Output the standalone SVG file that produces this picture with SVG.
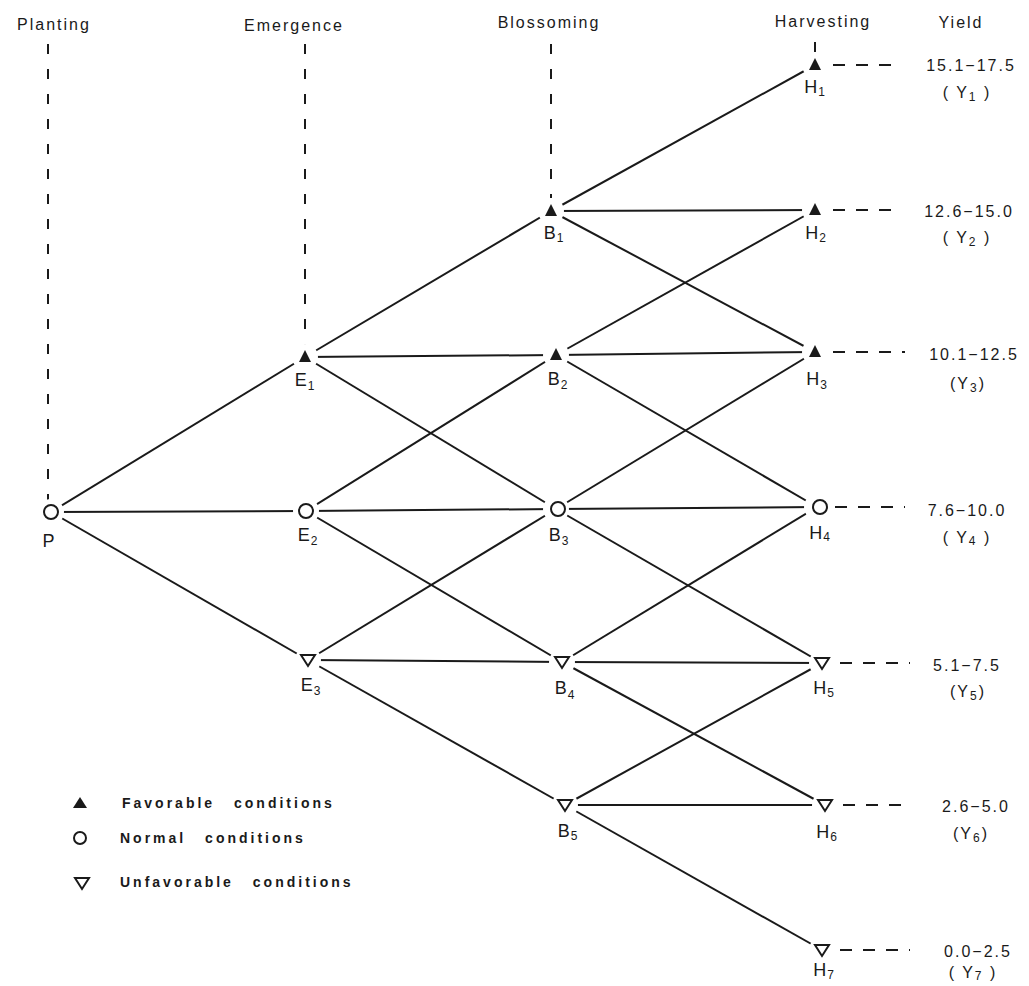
<svg xmlns="http://www.w3.org/2000/svg" width="1029" height="986" viewBox="0 0 1029 986">
<style>
text{font-family:"Liberation Sans","DejaVu Sans",sans-serif;fill:#1a1a1a}
.hd{font-size:16px;letter-spacing:2px;text-anchor:middle}
.lb{font-size:18px;letter-spacing:1px;text-anchor:middle}
.yv{font-size:16px;letter-spacing:2px;text-anchor:middle}
.lg{font-size:14px;font-weight:bold;letter-spacing:3px;word-spacing:12px}
.sub{font-size:12px}
.c line{stroke:#1a1a1a;stroke-width:2}
.d{stroke:#1a1a1a;stroke-width:2;stroke-dasharray:10 15;fill:none}
.dy{stroke:#1a1a1a;stroke-width:2;stroke-dasharray:12 11;fill:none}
.m{fill:#fff}
.up{fill:#1a1a1a}
.dn{fill:none;stroke:#1a1a1a;stroke-width:2}
.ci{fill:none;stroke:#1a1a1a;stroke-width:2}
</style>
<rect width="1029" height="986" fill="#fff"/>
<g id="headers">
<text class="hd" x="54" y="30">Planting</text>
<text class="hd" x="294" y="31">Emergence</text>
<text class="hd" x="549" y="28">Blossoming</text>
<text class="hd" x="823" y="27">Harvesting</text>
<text class="hd" x="961" y="28">Yield</text>
</g>
<g id="guides">
<line class="d" x1="48" y1="44" x2="48" y2="500"/>
<line class="d" x1="305" y1="44" x2="305" y2="345"/>
<line class="d" x1="551" y1="44" x2="551" y2="198"/>
<line class="d" x1="815" y1="42" x2="815" y2="54"/>
<line class="dy" x1="833" y1="65" x2="900" y2="65"/>
<line class="dy" x1="833" y1="210" x2="900" y2="210"/>
<line class="dy" x1="833" y1="352" x2="905" y2="352"/>
<line class="dy" x1="835" y1="507" x2="905" y2="507"/>
<line class="dy" x1="840" y1="663" x2="910" y2="663"/>
<line class="dy" x1="843" y1="805" x2="910" y2="805"/>
<line class="dy" x1="840" y1="950" x2="910" y2="950"/>
</g>
<g id="connectors" class="c">
<line x1="51" y1="512" x2="305" y2="357"/>
<line x1="51" y1="512" x2="306" y2="511"/>
<line x1="51" y1="512" x2="308" y2="660"/>
<line x1="305" y1="357" x2="551" y2="211"/>
<line x1="305" y1="357" x2="556" y2="355"/>
<line x1="305" y1="357" x2="556" y2="509"/>
<line x1="306" y1="511" x2="556" y2="355"/>
<line x1="306" y1="511" x2="556" y2="509"/>
<line x1="306" y1="511" x2="562" y2="662"/>
<line x1="308" y1="660" x2="556" y2="509"/>
<line x1="308" y1="660" x2="562" y2="662"/>
<line x1="308" y1="660" x2="565" y2="805"/>
<line x1="551" y1="211" x2="815" y2="65"/>
<line x1="551" y1="211" x2="815" y2="210"/>
<line x1="551" y1="211" x2="815" y2="352"/>
<line x1="556" y1="355" x2="815" y2="210"/>
<line x1="556" y1="355" x2="815" y2="352"/>
<line x1="556" y1="355" x2="817" y2="507"/>
<line x1="556" y1="509" x2="815" y2="352"/>
<line x1="556" y1="509" x2="817" y2="507"/>
<line x1="556" y1="509" x2="822" y2="663"/>
<line x1="562" y1="662" x2="817" y2="507"/>
<line x1="562" y1="662" x2="822" y2="663"/>
<line x1="562" y1="662" x2="825" y2="805"/>
<line x1="565" y1="805" x2="822" y2="663"/>
<line x1="565" y1="805" x2="825" y2="805"/>
<line x1="565" y1="805" x2="822" y2="950"/>
</g>
<g id="node-P"><circle class="m" cx="51" cy="512" r="13"/><circle class="ci" cx="51" cy="512" r="7"/><text class="lb" x="49" y="547">P</text></g>
<g id="node-E1"><circle class="m" cx="305" cy="357" r="13"/><polygon class="up" points="305,350 299,362 311,362"/><text class="lb" x="305" y="386">E<tspan class="sub" dy="4">1</tspan></text></g>
<g id="node-E2"><circle class="m" cx="306" cy="511" r="13"/><circle class="ci" cx="306" cy="511" r="7"/><text class="lb" x="308" y="541">E<tspan class="sub" dy="4">2</tspan></text></g>
<g id="node-E3"><circle class="m" cx="308" cy="660" r="13"/><polygon class="dn" points="301,655 315,655 308,666"/><text class="lb" x="311" y="691">E<tspan class="sub" dy="4">3</tspan></text></g>
<g id="node-B1"><circle class="m" cx="551" cy="211" r="13"/><polygon class="up" points="551,204 545,216 557,216"/><text class="lb" x="554" y="239">B<tspan class="sub" dy="3">1</tspan></text></g>
<g id="node-B2"><circle class="m" cx="556" cy="355" r="13"/><polygon class="up" points="556,348 550,360 562,360"/><text class="lb" x="558" y="385">B<tspan class="sub" dy="4">2</tspan></text></g>
<g id="node-B3"><circle class="m" cx="556" cy="509" r="13"/><circle class="ci" cx="558" cy="509" r="7"/><text class="lb" x="559" y="541">B<tspan class="sub" dy="4">3</tspan></text></g>
<g id="node-B4"><circle class="m" cx="562" cy="662" r="13"/><polygon class="dn" points="555,657 569,657 562,668"/><text class="lb" x="565" y="694">B<tspan class="sub" dy="5">4</tspan></text></g>
<g id="node-B5"><circle class="m" cx="565" cy="805" r="13"/><polygon class="dn" points="558,800 572,800 565,811"/><text class="lb" x="568" y="837">B<tspan class="sub" dy="3">5</tspan></text></g>
<g id="node-H1"><circle class="m" cx="815" cy="65" r="13"/><polygon class="up" points="815,58 809,70 821,70"/><text class="lb" x="815" y="93">H<tspan class="sub" dy="3">1</tspan></text></g>
<g id="node-H2"><circle class="m" cx="815" cy="210" r="13"/><polygon class="up" points="815,203 809,215 821,215"/><text class="lb" x="816" y="239">H<tspan class="sub" dy="3">2</tspan></text></g>
<g id="node-H3"><circle class="m" cx="815" cy="352" r="13"/><polygon class="up" points="815,345 809,357 821,357"/><text class="lb" x="817" y="385">H<tspan class="sub" dy="4">3</tspan></text></g>
<g id="node-H4"><circle class="m" cx="817" cy="507" r="13"/><circle class="ci" cx="820" cy="507" r="7"/><text class="lb" x="820" y="539">H<tspan class="sub" dy="2">4</tspan></text></g>
<g id="node-H5"><circle class="m" cx="822" cy="663" r="13"/><polygon class="dn" points="815,658 829,658 822,669"/><text class="lb" x="824" y="694">H<tspan class="sub" dy="3">5</tspan></text></g>
<g id="node-H6"><circle class="m" cx="825" cy="805" r="13"/><polygon class="dn" points="818,800 832,800 825,811"/><text class="lb" x="827" y="838">H<tspan class="sub" dy="3">6</tspan></text></g>
<g id="node-H7"><circle class="m" cx="822" cy="950" r="13"/><polygon class="dn" points="815,945 829,945 822,956"/><text class="lb" x="824" y="976">H<tspan class="sub" dy="3">7</tspan></text></g>
<g id="yields">
<text class="yv" x="971" y="71">15.1−17.5</text>
<text class="yv" x="967" y="98">( Y<tspan class="sub" dy="3">1</tspan><tspan dy="-3"> )</tspan></text>
<text class="yv" x="969" y="217">12.6−15.0</text>
<text class="yv" x="967" y="243">( Y<tspan class="sub" dy="3">2</tspan><tspan dy="-3"> )</tspan></text>
<text class="yv" x="974" y="360">10.1−12.5</text>
<text class="yv" x="968" y="389">(Y<tspan class="sub" dy="3">3</tspan><tspan dy="-3">)</tspan></text>
<text class="yv" x="967" y="516">7.6−10.0</text>
<text class="yv" x="967" y="543">( Y<tspan class="sub" dy="2">4</tspan><tspan dy="-2"> )</tspan></text>
<text class="yv" x="967" y="671">5.1−7.5</text>
<text class="yv" x="968" y="697">(Y<tspan class="sub" dy="3">5</tspan><tspan dy="-3">)</tspan></text>
<text class="yv" x="976" y="812">2.6−5.0</text>
<text class="yv" x="971" y="839">(Y<tspan class="sub" dy="3">6</tspan><tspan dy="-3">)</tspan></text>
<text class="yv" x="978" y="957">0.0−2.5</text>
<text class="yv" x="973" y="978">( Y<tspan class="sub" dy="2">7</tspan><tspan dy="-2"> )</tspan></text>
</g>
<g id="legend">
<polygon class="up" points="80,797 73,808 87,808"/>
<text class="lg" x="122" y="808">Favorable conditions</text>
<circle class="ci" cx="80" cy="838" r="6"/>
<text class="lg" x="120" y="843">Normal conditions</text>
<polygon class="dn" points="75,878 89,878 82,889"/>
<text class="lg" x="120" y="887">Unfavorable conditions</text>
</g>
</svg>
